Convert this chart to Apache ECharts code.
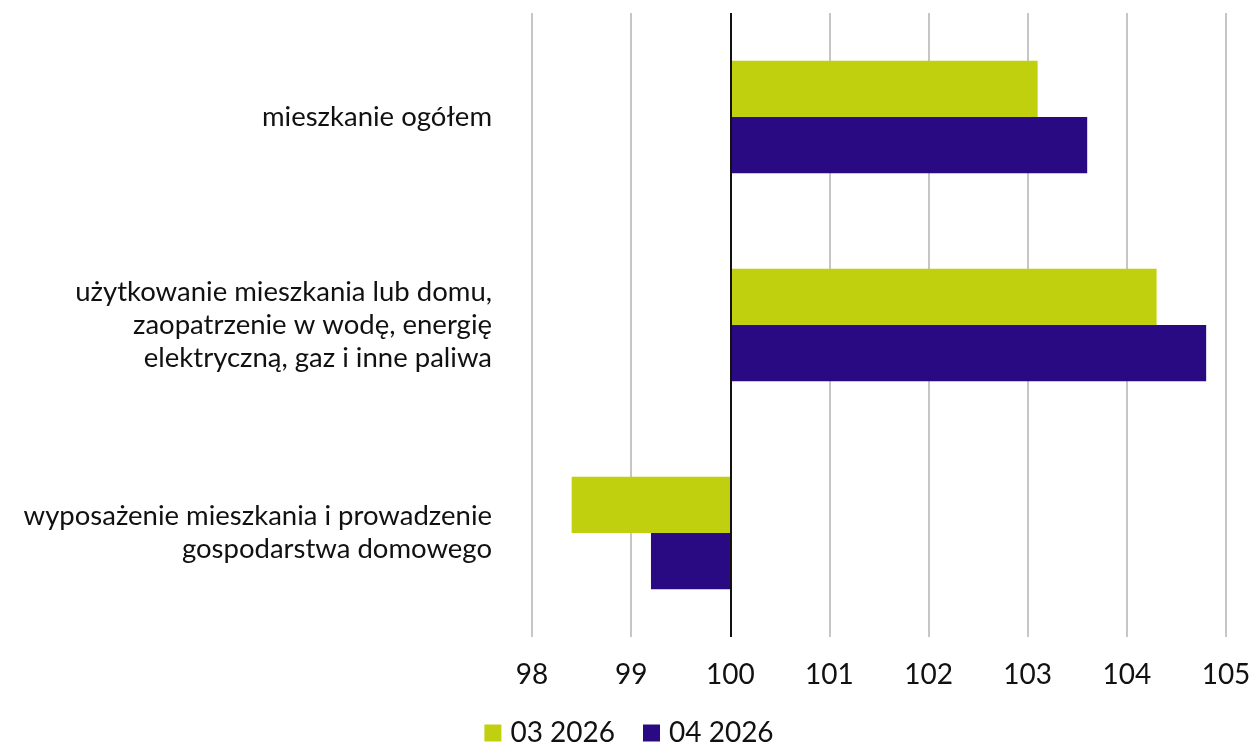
<!DOCTYPE html>
<html>
<head>
<meta charset="utf-8">
<script src="https://cdn.jsdelivr.net/npm/echarts@6/dist/echarts.min.js"></script>
<style>
  html, body { margin: 0; padding: 0; background: #fff; }
  #main { width: 1258px; height: 746px; }
</style>
</head>
<body>
<div id="main"></div>
<script>
var categories = [
  'mieszkanie ogółem',
  'użytkowanie mieszkania lub domu,\nzaopatrzenie w wodę, energię\nelektryczną, gaz i inne paliwa',
  'wyposażenie mieszkania i prowadzenie\ngospodarstwa domowego'
];
var seriesNames = ['03 2026', '04 2026'];
var march = [103.1, 104.3, 98.4];
var april = [103.6, 104.8, 99.2];
var base = 100; // bars grow from 100
var ticks = [98, 99, 100, 101, 102, 103, 104, 105];

var font = 'Lato, "Noto Sans", sans-serif';
var myChart = echarts.init(document.getElementById('main'));

function shift(arr) {
  return arr.map(function (v) { return +(v - base).toFixed(2); });
}

var option = {
  animation: false,
  grid: { left: 532, right: 32, top: 13, bottom: 109, containLabel: false },
  legend: {
    top: 713,
    left: 'center',
    icon: 'rect',
    itemWidth: 17,
    itemHeight: 17,
    itemGap: 28,
    textStyle: { fontFamily: font, fontSize: 28, color: '#111', lineHeight: 30, padding: [0, 0, 0, 4] },
    data: seriesNames
  },
  xAxis: {
    type: 'value',
    min: ticks[0] - base,
    max: ticks[ticks.length - 1] - base,
    interval: 1,
    axisLine: { show: false },
    axisTick: { show: false },
    axisLabel: {
      margin: 24,
      fontFamily: font, fontSize: 28, color: '#111',
      formatter: function (v) { return String(v + base); }
    },
    splitLine: { lineStyle: { color: '#b3b3b3', width: 1.5 } }
  },
  yAxis: {
    type: 'category',
    inverse: true,
    data: categories,
    axisLine: { show: false, onZero: false },
    axisTick: { show: false },
    axisLabel: {
      margin: 40,
      fontFamily: font, fontSize: 27.5, color: '#111',
      lineHeight: 33, align: 'right'
    }
  },
  series: [
    {
      name: seriesNames[0], type: 'bar',
      data: shift(march),
      barGap: '0%', barCategoryGap: '46%',
      itemStyle: { color: '#c0d00e' },
      markLine: {
        silent: true, symbol: 'none', label: { show: false },
        lineStyle: { color: '#111', width: 2, type: 'solid' },
        data: [{ xAxis: 0 }]
      }
    },
    {
      name: seriesNames[1], type: 'bar',
      data: shift(april),
      barGap: '0%', barCategoryGap: '46%',
      itemStyle: { color: '#2a0a82' }
    }
  ]
};
myChart.setOption(option);
</script>
</body>
</html>
